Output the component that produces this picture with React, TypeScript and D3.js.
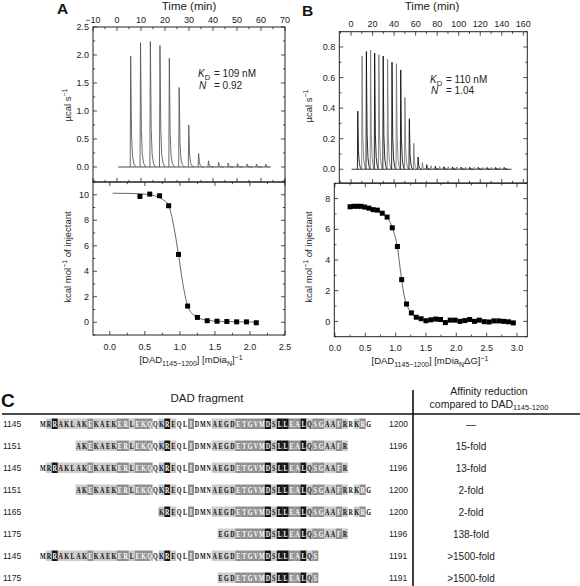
import React from 'react';
import * as d3 from 'd3';

// ---------------- DATA ----------------
// Panel A – raw thermogram (injection time in min, peak height in µcal/s)
const aInjTime = [5.5, 9.6, 13.7, 17.7, 21.6, 25.7, 29.7, 33.8, 37.9, 42.1, 46.1, 50.0, 54.0, 57.9, 61.8];
const aPeak = [1.98, 2.22, 2.24, 2.17, 1.94, 1.42, 0.75, 0.24, 0.11, 0.085, 0.07, 0.06, 0.055, 0.055, 0.05];
const aBaseRange = [0.5, 63.5];
// Panel A – integrated heats
const aRatio = [0.43, 0.57, 0.71, 0.84, 0.98, 1.11, 1.25, 1.39, 1.53, 1.67, 1.81, 1.95, 2.09];
const aHeat = [9.87, 10.05, 9.92, 9.14, 5.32, 1.27, 0.38, 0.12, 0.08, 0.06, 0.03, 0.03, -0.04];
const aFitX = [0.04, 0.3, 0.5, 0.65, 0.75, 0.84, 0.91, 0.98, 1.04, 1.11, 1.18, 1.25, 1.39, 1.53, 1.7, 1.9, 2.09];
const aFitY = [10.12, 10.1, 10.05, 9.9, 9.65, 9.15, 7.6, 5.3, 3.1, 1.3, 0.65, 0.38, 0.15, 0.08, 0.05, 0.03, 0.01];

// Panel B – raw thermogram
const bInjTime = [5.9, 9.9, 13.9, 17.8, 21.6, 25.5, 29.5, 33.6, 37.7, 41.8, 45.8, 49.7, 53.8, 57.9, 61.9, 65.9, 69.9, 73.9,
  77.9, 81.9, 85.9, 89.9, 93.9, 97.9, 101.9, 105.9, 109.9, 113.9, 117.9, 121.9, 125.9, 129.9, 133.9, 137.9, 141.9];
const bPeak = [0.38, 0.74, 0.77, 0.78, 0.76, 0.75, 0.74, 0.72, 0.70, 0.69, 0.65, 0.47, 0.33, 0.17, 0.08, 0.045, 0.03, 0.022,
  0.02, 0.018, 0.017, 0.016, 0.015, 0.015, 0.014, 0.014, 0.013, 0.013, 0.013, 0.012, 0.012, 0.012, 0.012, 0.012, 0.012];
const bBaseRange = [0.6, 149];
// Panel B – integrated heats
const bRatio = [0.25, 0.31, 0.37, 0.43, 0.49, 0.56, 0.63, 0.70, 0.78, 0.86, 0.945, 1.03, 1.10, 1.18, 1.26, 1.34, 1.42, 1.50,
  1.58, 1.66, 1.74, 1.82, 1.90, 1.98, 2.06, 2.14, 2.22, 2.30, 2.38, 2.46, 2.54, 2.62, 2.70, 2.78, 2.86, 2.94];
const bHeat = [7.47, 7.5, 7.5, 7.5, 7.45, 7.38, 7.28, 7.25, 7.05, 6.8, 6.1, 4.88, 2.72, 1.13, 0.55, 0.27, 0.17, 0.04,
  0.1, 0.15, 0.12, -0.08, 0.08, 0.08, 0.0, 0.05, 0.12, 0.0, 0.08, -0.02, -0.04, 0.03, 0.03, 0.0, -0.03, -0.1];
const bFitX = [0.25, 0.45, 0.6, 0.7, 0.8, 0.88, 0.945, 1.0, 1.03, 1.07, 1.10, 1.14, 1.18, 1.26, 1.34, 1.45, 1.6, 1.9, 2.4, 2.94];
const bFitY = [7.5, 7.48, 7.38, 7.25, 7.02, 6.7, 6.1, 5.4, 4.85, 3.6, 2.72, 1.7, 1.13, 0.55, 0.28, 0.12, 0.05, 0.02, 0.01, 0.0];

// Tick labels
const aTopXTicks = [-10, 0, 10, 20, 30, 40, 50, 60, 70];
const aTopYTicks = [0, 0.5, 1.0, 1.5, 2.0, 2.5];
const aBotXTicks = [0, 0.5, 1.0, 1.5, 2.0, 2.5];
const aBotYTicks = [0, 2, 4, 6, 8, 10];
const bTopXTicks = [0, 20, 40, 60, 80, 100, 120, 140, 160];
const bTopYTicks = [0, 0.2, 0.4, 0.6, 0.8];
const bBotXTicks = [0, 0.5, 1.0, 1.5, 2.0, 2.5, 3.0];
const bBotYTicks = [0, 2, 4, 6, 8];

// Panel C – table
const dadSeq = 'MRRAKLAKEKAEKERLEKQQKREQLIDMNAEGDETGVMDSLLEALQSGAAFRRKRG';
// shading per residue: 0 none, 1 light grey, 2 mid grey, 3 black
const dadShade = '01311111' + '21111221' + '22201310' + '02000111' + '12222231' + '33223122' + '11210120';
const fragStart = [1145, 1151, 1145, 1151, 1165, 1175, 1145, 1175];
const fragEnd = [1200, 1196, 1196, 1200, 1200, 1196, 1191, 1191];
const affinity = ['\u2014', '15-fold', '13-fold', '2-fold', '2-fold', '138-fold', '>1500-fold', '>1500-fold'];

// ---------------- HELPERS ----------------
const SANS = "'Liberation Sans', Arial, Helvetica, sans-serif";
const SERIF = "'Liberation Serif', 'Times New Roman', serif";
const INK = '#222';

function stepsIn(a: number, b: number, step: number) {
  const lo = Math.min(a, b), hi = Math.max(a, b);
  const out: number[] = [];
  const s = Math.ceil(lo / step - 1e-6), e = Math.floor(hi / step + 1e-6);
  for (let k = s; k <= e; k++) out.push(+(k * step).toFixed(6));
  return out;
}

type AxesProps = {
  xs: d3.ScaleLinear<number, number>;
  ys: d3.ScaleLinear<number, number>;
  xMaj: number[]; xMinorStep: number;
  yMaj: number[]; yMinorStep: number;
  xFmt: (v: number) => string; yFmt: (v: number) => string;
  xLabelTop: boolean;
};

function Axes({ xs, ys, xMaj, xMinorStep, yMaj, yMinorStep, xFmt, yFmt, xLabelTop }: AxesProps) {
  const [l, r] = xs.range();
  const [b, t] = ys.range();
  const xMin = stepsIn(xs.domain()[0], xs.domain()[1], xMinorStep);
  const yMin = stepsIn(ys.domain()[0], ys.domain()[1], yMinorStep);
  const isMajX = (v: number) => xMaj.some(m => Math.abs(m - v) < 1e-6);
  const isMajY = (v: number) => yMaj.some(m => Math.abs(m - v) < 1e-6);
  const ticks: JSX.Element[] = [];
  xMin.forEach((v, i) => {
    const x = xs(v); const len = isMajX(v) ? 4 : 2.2;
    ticks.push(<line key={'xt' + i} x1={x} x2={x} y1={t} y2={t + len} />);
    ticks.push(<line key={'xb' + i} x1={x} x2={x} y1={b} y2={b - len} />);
  });
  yMin.forEach((v, i) => {
    const y = ys(v); const len = isMajY(v) ? 4 : 2.2;
    ticks.push(<line key={'yl' + i} x1={l} x2={l + len} y1={y} y2={y} />);
    ticks.push(<line key={'yr' + i} x1={r} x2={r - len} y1={y} y2={y} />);
  });
  return (
    <g>
      <rect x={l} y={t} width={r - l} height={b - t} fill="none" stroke={INK} strokeWidth={1} />
      <g stroke={INK} strokeWidth={0.8}>{ticks}</g>
      <g fontFamily={SANS} fontSize={9} fill={INK}>
        {xMaj.map((v, i) => (
          <text key={'xl' + i} x={xs(v)} y={xLabelTop ? t - 4.5 : b + 14.5} textAnchor="middle">{xFmt(v)}</text>
        ))}
        {yMaj.map((v, i) => (
          <text key={'yl' + i} x={l - 4} y={ys(v)} dy="0.35em" textAnchor="end">{yFmt(v)}</text>
        ))}
      </g>
    </g>
  );
}

function peakPath(t0: number, h: number, shape: number[][], xs: any, ys: any) {
  const pts = shape.map(([dt, f]) => [xs(t0 + dt), ys(h * f)] as [number, number]);
  return d3.line()(pts) || '';
}

const fmtInt = (v: number) => (v < 0 ? '\u2212' + Math.abs(v) : String(v));
const fmt1 = (v: number) => v.toFixed(1);

// ---------------- APP ----------------
export default function App() {
  const aTx = d3.scaleLinear().domain([-10, 70]).range([93, 285]);
  const aTy = d3.scaleLinear().domain([-0.268, 2.5]).range([182, 27]);
  const aBx = d3.scaleLinear().domain([-0.24, 2.5]).range([93, 285]);
  const aBy = d3.scaleLinear().domain([-1, 11]).range([335, 182]);
  const bTx = d3.scaleLinear().domain([-10.9, 163.7]).range([339.3, 527.3]);
  const bTy = d3.scaleLinear().domain([-0.09, 0.9]).range([183, 31.7]);
  const bBx = d3.scaleLinear().domain([-0.01, 3.17]).range([334.3, 527.3]);
  const bBy = d3.scaleLinear().domain([-1, 9]).range([336.7, 183.3]);

  const shapeA = [[0, 0], [0.2, 1], [0.55, 0.3], [0.95, 0.1], [1.5, 0.03], [2.4, 0]];
  const shapeB = [[0, 0], [0.35, 1], [1.0, 0.3], [1.8, 0.1], [2.7, 0.03], [3.7, 0]];

  const fitLine = d3.line<[number, number]>().curve(d3.curveMonotoneX);
  const aFit = fitLine(aFitX.map((x, i) => [aBx(x), aBy(aFitY[i])])) || '';
  const bFit = fitLine(bFitX.map((x, i) => [bBx(x), bBy(bFitY[i])])) || '';

  // table scales
  const resX = d3.scaleLinear().domain([1145, 1201]).range([40, 371.5]);
  const rowY = d3.scaleLinear().domain([0, 7]).range([424, 578]);
  const cellW = resX(1146) - resX(1145);
  const shadeFill = ['none', '#cbcbcb', '#8f8f8f', '#151515'];
  const shadeText = ['#111', '#111', '#fff', '#fff'];
  const SX = 0.68;

  const sq = 5;

  return (
    <svg width={580} height={586} style={{ position: 'absolute', left: 0, top: 0, background: '#fff' }}>
      <rect x={0} y={0} width={580} height={586} fill="#fff" />

      {/* ---------- Panel A ---------- */}
      <text x={57} y={14} fontFamily={SANS} fontWeight="bold" fontSize={15.5} fill="#111">A</text>
      <text x={189} y={9.5} fontFamily={SANS} fontSize={11.5} textAnchor="middle" fill={INK}>Time (min)</text>
      <line x1={aTx(aBaseRange[0])} x2={aTx(aBaseRange[1])} y1={aTy(0)} y2={aTy(0)} stroke="#333" strokeWidth={0.9} />
      {aInjTime.map((t, i) => (
        <path key={'ap' + i} d={peakPath(t, aPeak[i], shapeA, aTx, aTy)} fill="none" stroke="#5a5a5a" strokeWidth={0.9} />
      ))}
      <Axes xs={aTx} ys={aTy} xMaj={aTopXTicks} xMinorStep={5} yMaj={aTopYTicks} yMinorStep={0.25}
        xFmt={fmtInt} yFmt={fmt1} xLabelTop={true} />
      <text fontFamily={SANS} fontSize={10} fill={INK}>
        <tspan x={198} y={77} fontStyle="italic">K</tspan>
        <tspan dy={2.5} fontSize={7.5}>D</tspan>
        <tspan x={214} dy={-2.5}>= 109 nM</tspan>
      </text>
      <text fontFamily={SANS} fontSize={10} fill={INK}>
        <tspan x={199} y={88.5} fontStyle="italic">N</tspan>
        <tspan x={214}>= 0.92</tspan>
      </text>
      <text transform="translate(70.5,105) rotate(-90)" fontFamily={SANS} fontSize={9.5} textAnchor="middle" fill={INK}>
        µcal s<tspan dy={-3.5} fontSize={7}>−1</tspan>
      </text>

      <path d={aFit} fill="none" stroke="#555" strokeWidth={0.9} />
      {aRatio.map((x, i) => (
        <rect key={'as' + i} x={aBx(x) - sq / 2} y={aBy(aHeat[i]) - sq / 2} width={sq} height={sq} fill="#000" />
      ))}
      <Axes xs={aBx} ys={aBy} xMaj={aBotXTicks} xMinorStep={0.25} yMaj={aBotYTicks} yMinorStep={1}
        xFmt={fmt1} yFmt={fmtInt} xLabelTop={false} />
      <text transform="translate(70.5,257) rotate(-90)" fontFamily={SANS} fontSize={9.5} textAnchor="middle" fill={INK}>
        kcal mol<tspan dy={-3.5} fontSize={7}>−1</tspan><tspan dy={3.5}> of injectant</tspan>
      </text>
      <text x={191} y={363} fontFamily={SANS} fontSize={9.5} textAnchor="middle" fill={INK}>
        [DAD<tspan dy={2.5} fontSize={7}>1145−1200</tspan><tspan dy={-2.5}>] [mDia</tspan><tspan dy={2.5} fontSize={7}>N</tspan><tspan dy={-2.5}>]</tspan><tspan dy={-3.5} fontSize={7}>−1</tspan>
      </text>

      {/* ---------- Panel B ---------- */}
      <text x={302} y={15.5} fontFamily={SANS} fontWeight="bold" fontSize={15.5} fill="#111">B</text>
      <text x={432} y={9.5} fontFamily={SANS} fontSize={11.5} textAnchor="middle" fill={INK}>Time (min)</text>
      <line x1={bTx(bBaseRange[0])} x2={bTx(bBaseRange[1])} y1={bTy(0)} y2={bTy(0)} stroke="#222" strokeWidth={0.9} />
      {bInjTime.map((t, i) => (
        <path key={'bp' + i} d={peakPath(t, bPeak[i], shapeB, bTx, bTy)} fill="none"
          stroke={i % 2 === 0 ? '#111' : '#7a7a7a'} strokeWidth={0.9} />
      ))}
      <Axes xs={bTx} ys={bTy} xMaj={bTopXTicks} xMinorStep={10} yMaj={bTopYTicks} yMinorStep={0.1}
        xFmt={fmtInt} yFmt={fmt1} xLabelTop={true} />
      <text fontFamily={SANS} fontSize={10} fill={INK}>
        <tspan x={430} y={83} fontStyle="italic">K</tspan>
        <tspan dy={2.5} fontSize={7.5}>D</tspan>
        <tspan x={446} dy={-2.5}>= 110 nM</tspan>
      </text>
      <text fontFamily={SANS} fontSize={10} fill={INK}>
        <tspan x={431} y={93.5} fontStyle="italic">N</tspan>
        <tspan x={446}>= 1.04</tspan>
      </text>
      <text transform="translate(311.5,106) rotate(-90)" fontFamily={SANS} fontSize={9.5} textAnchor="middle" fill={INK}>
        µcal s<tspan dy={-3.5} fontSize={7}>−1</tspan>
      </text>

      <path d={bFit} fill="none" stroke="#555" strokeWidth={0.9} />
      {bRatio.map((x, i) => (
        <rect key={'bs' + i} x={bBx(x) - sq / 2} y={bBy(bHeat[i]) - sq / 2} width={sq} height={sq} fill="#000" />
      ))}
      <Axes xs={bBx} ys={bBy} xMaj={bBotXTicks} xMinorStep={0.25} yMaj={bBotYTicks} yMinorStep={1}
        xFmt={fmt1} yFmt={fmtInt} xLabelTop={false} />
      <text transform="translate(311.5,257) rotate(-90)" fontFamily={SANS} fontSize={9.5} textAnchor="middle" fill={INK}>
        kcal mol<tspan dy={-3.5} fontSize={7}>−1</tspan><tspan dy={3.5}> of injectant</tspan>
      </text>
      <text x={430} y={364} fontFamily={SANS} fontSize={9.5} textAnchor="middle" fill={INK}>
        [DAD<tspan dy={2.5} fontSize={7}>1145−1200</tspan><tspan dy={-2.5}>] [mDia</tspan><tspan dy={2.5} fontSize={7}>N</tspan><tspan dy={-2.5}>ΔG]</tspan><tspan dy={-3} fontSize={7}>−1</tspan>
      </text>

      {/* ---------- Panel C ---------- */}
      <text x={1} y={407} fontFamily={SANS} fontWeight="bold" fontSize={19} fill="#111">C</text>
      <text x={207} y={402} fontFamily={SANS} fontSize={11.5} textAnchor="middle" fill={INK}>DAD fragment</text>
      <text x={489} y={395} fontFamily={SANS} fontSize={10.5} textAnchor="middle" fill={INK}>Affinity reduction</text>
      <text x={489} y={407.5} fontFamily={SANS} fontSize={10.5} textAnchor="middle" fill={INK}>
        compared to DAD<tspan dy={2.5} fontSize={7.5}>1145-1200</tspan>
      </text>
      <line x1={2} x2={580} y1={414} y2={414} stroke="#111" strokeWidth={1.6} />
      <line x1={413} x2={413} y1={390} y2={586} stroke="#111" strokeWidth={1.6} />

      {fragStart.map((s, r) => {
        const y = rowY(r);
        const pos = d3.range(s, fragEnd[r] + 1);
        return (
          <g key={'row' + r}>
            <text x={3} y={y + 3.2} fontFamily={SANS} fontSize={8.5} fill={INK}>{s}</text>
            {pos.map(p => {
              const sh = +dadShade[p - 1145];
              return sh > 0 ? (
                <rect key={'c' + p} x={resX(p)} y={y - 5.5} width={cellW + 0.1} height={10.5} fill={shadeFill[sh]} />
              ) : null;
            })}
            <text transform={`translate(0,${y + 3.3}) scale(${SX},1)`} fontFamily={SERIF} fontWeight="bold" fontSize={9}>
              {pos.map(p => {
                const sh = +dadShade[p - 1145];
                return (
                  <tspan key={'t' + p} x={(resX(p) + cellW / 2) / SX} textAnchor="middle" fill={shadeText[sh]}>
                    {dadSeq[p - 1145]}
                  </tspan>
                );
              })}
            </text>
            <text x={389} y={y + 3.2} fontFamily={SANS} fontSize={8.5} fill={INK}>{fragEnd[r]}</text>
            <text x={471} y={y + 3.6} fontFamily={SANS} fontSize={10} textAnchor="middle" fill={INK}>{affinity[r]}</text>
          </g>
        );
      })}
    </svg>
  );
}
